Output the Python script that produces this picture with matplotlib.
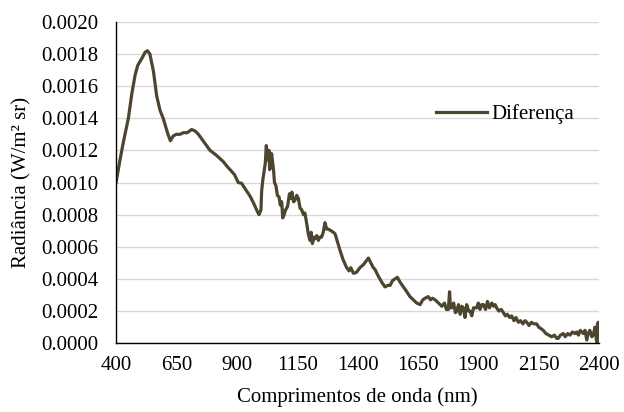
import numpy as np
import matplotlib
matplotlib.use('Agg')
import matplotlib.pyplot as plt

# Wellenlaengen (nm) und Radianz-Differenz (W/m² sr)
comprimento = [
    400, 415, 430, 451, 465, 479, 490, 506, 520, 530, 540, 555, 568, 582, 595,
    603, 615, 625, 637, 650, 665, 679, 695, 713, 728, 741, 760, 789, 815, 844,
    860, 872, 890, 906, 920, 935, 955, 970, 985, 992, 1000, 1003, 1008, 1014,
    1018, 1022, 1026, 1030, 1033, 1036, 1040, 1044, 1048, 1052, 1056, 1062,
    1068, 1075, 1080, 1086, 1090, 1096, 1102, 1110, 1118, 1124, 1128, 1135,
    1141, 1148, 1155, 1162, 1169, 1176, 1182, 1190, 1196, 1203, 1208, 1213,
    1220, 1226, 1231, 1238, 1244, 1251, 1258, 1265, 1272, 1279, 1290, 1300,
    1307, 1315, 1327, 1340, 1355, 1365, 1372, 1383, 1395, 1410, 1425, 1435,
    1445, 1455, 1465, 1472, 1485, 1500, 1514, 1525, 1535, 1545, 1555, 1565,
    1576, 1590, 1604, 1617, 1631, 1645, 1659, 1670, 1680, 1693, 1702, 1710,
    1721, 1735, 1749, 1760, 1768, 1776, 1781, 1785, 1790, 1798, 1805, 1811,
    1818, 1825, 1832, 1838, 1845, 1852, 1860, 1866, 1873, 1880, 1893, 1900,
    1907, 1914, 1921, 1930, 1938, 1946, 1956, 1963, 1970, 1976, 1985, 1995,
    2004, 2012, 2020, 2030, 2038, 2048, 2056, 2066, 2075, 2085, 2093, 2101,
    2110, 2120, 2130, 2142, 2150, 2160, 2169, 2180, 2192, 2204, 2215, 2225,
    2231, 2240, 2252, 2260, 2270, 2280, 2290, 2300, 2307, 2315, 2322, 2335,
    2342, 2349, 2355, 2362, 2370, 2376, 2383, 2390, 2394, 2397, 2400,
]
diferenca = [
    0.00100, 0.00113, 0.00125, 0.00140, 0.00155, 0.00167, 0.00173, 0.00177,
    0.00181, 0.00182, 0.00180, 0.00169, 0.00154, 0.00145, 0.00140, 0.00136,
    0.00130, 0.00126, 0.00129, 0.00130, 0.00130, 0.00131, 0.00131, 0.00133,
    0.00132, 0.00130, 0.00126, 0.00120, 0.00117, 0.00113, 0.00110, 0.00108,
    0.00105, 0.00100, 0.000995, 0.00096, 0.000915, 0.00087, 0.00082, 0.00080,
    0.00083, 0.00095, 0.00102, 0.00108, 0.00112, 0.00123, 0.00118, 0.00114,
    0.00120, 0.00108, 0.00110, 0.00118, 0.00113, 0.00108, 0.00100, 0.00098,
    0.00092, 0.00091, 0.00086, 0.00088, 0.00078, 0.00080, 0.00083, 0.00085,
    0.00093, 0.00090, 0.00094, 0.00088, 0.00089, 0.00092, 0.00090, 0.00084,
    0.00083, 0.00080, 0.00081, 0.00074, 0.00068, 0.00064, 0.00069, 0.00062,
    0.00066, 0.00065, 0.00067, 0.00064, 0.00066, 0.00066, 0.00069, 0.00075,
    0.00071, 0.00071, 0.00070, 0.00069, 0.00068, 0.00064, 0.00058, 0.00052,
    0.00047, 0.00045, 0.00047, 0.000435, 0.00044, 0.00047, 0.00049, 0.00051,
    0.00053, 0.00050, 0.00047, 0.00046, 0.00042, 0.00038, 0.00035, 0.00036,
    0.00036, 0.00039, 0.00040, 0.00041, 0.00038, 0.00035, 0.00032, 0.00029,
    0.00027, 0.00025, 0.00024, 0.00027, 0.00028, 0.00029, 0.00027, 0.00028,
    0.00027, 0.00025, 0.00023, 0.00025, 0.00021, 0.00021, 0.00032, 0.00022,
    0.00022, 0.00025, 0.00019, 0.00020, 0.00024, 0.00018, 0.00023, 0.00022,
    0.00016, 0.00024, 0.00020, 0.00020, 0.00017, 0.00022, 0.00022, 0.00025,
    0.00021, 0.00024, 0.00024, 0.00021, 0.00026, 0.00022, 0.00025, 0.00023,
    0.00024, 0.00022, 0.00020, 0.00021, 0.00019, 0.00017, 0.00018, 0.00016,
    0.00017, 0.00014, 0.00016, 0.00013, 0.00014, 0.00012, 0.00014, 0.00013,
    0.00011, 0.00013, 0.00012, 0.00012, 0.00010, 0.00009, 0.00008, 0.00006,
    0.00005, 0.00004, 0.00005, 0.00003, 0.00003, 0.00005, 0.00006, 0.00004,
    0.00006, 0.00005, 0.00007, 0.00006, 0.00007, 0.00005, 0.00008, 0.00006,
    0.00008, 0.00002, 0.00006, 0.00008, 0.00004, 0.00005, 0.00010, 0.00001,
    0.00012, 0.00013, 0.00001,
]

x_ticks = [400, 650, 900, 1150, 1400, 1650, 1900, 2150, 2400]
y_ticks = [0.0000, 0.0002, 0.0004, 0.0006, 0.0008, 0.0010,
           0.0012, 0.0014, 0.0016, 0.0018, 0.0020]

plt.rcParams['font.family'] = ['Liberation Serif', 'DejaVu Serif']
plt.rcParams['font.size'] = 15

fig = plt.figure(figsize=(6.24, 4.12), dpi=100)
ax = fig.add_axes([0.186, 0.167, 0.774, 0.780])

ax.plot(comprimento, diferenca, color='#4d4530', linewidth=2.3,
        solid_joinstyle='round', label='Diferença')

ax.set_xlim(400, 2400)
ax.set_ylim(0, 0.002)
ax.set_xticks(x_ticks)
ax.set_yticks(y_ticks)
ax.set_yticklabels([f'{v:.4f}' for v in y_ticks])
ax.grid(True, axis='y', color='#d9d9d9', linewidth=1.0)
ax.set_axisbelow(True)

for s in ['top', 'right']:
    ax.spines[s].set_visible(False)
for s in ['left', 'bottom']:
    ax.spines[s].set_color('black')
    ax.spines[s].set_linewidth(1.0)

ax.tick_params(axis='both', length=0)
ax.tick_params(axis='y', pad=13)
ax.tick_params(axis='x', pad=9)

ax.set_xlabel('Comprimentos de onda (nm)', labelpad=9)
ax.set_ylabel('Radiância (W/m² sr)', labelpad=7)

ax.legend(loc='center left', bbox_to_anchor=(0.663, 0.712), frameon=False,
          handlelength=2.45, handletextpad=0.2, borderpad=0, borderaxespad=0)

fig.savefig('out.png', dpi=100)
